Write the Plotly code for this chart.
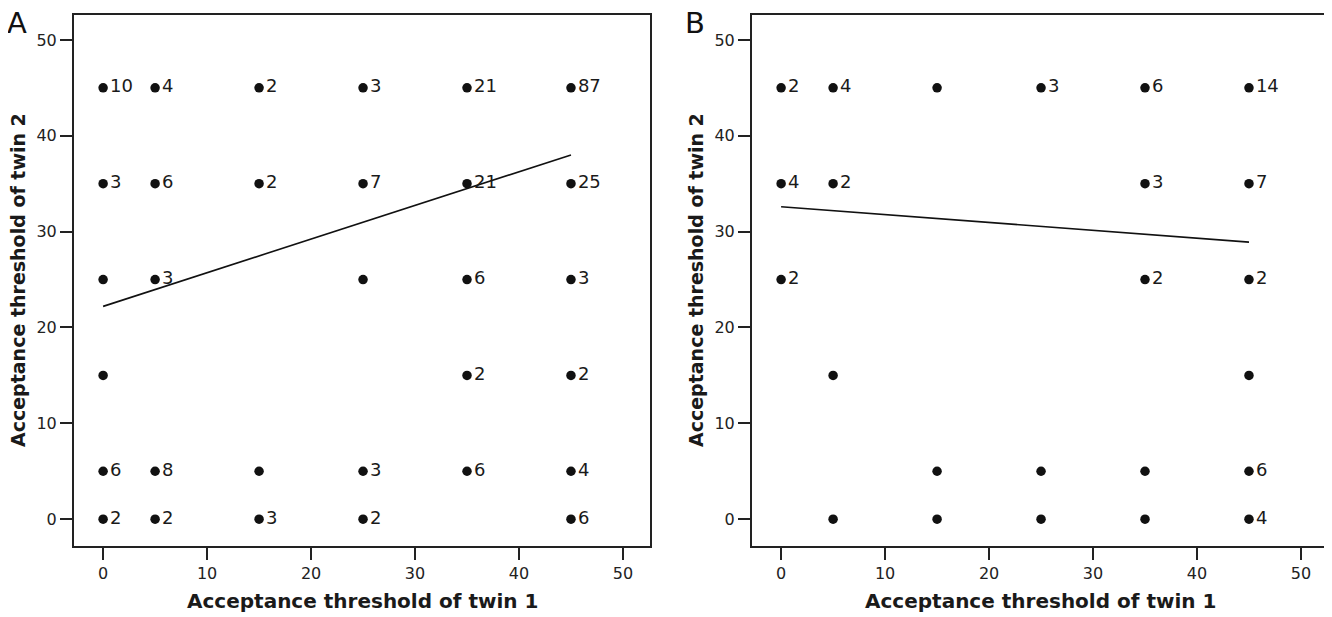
import plotly.graph_objects as go

# ---------------- data ----------------
# Panel A: acceptance thresholds of twin 1 (x) and twin 2 (y) with pair counts
a_x = [0, 5, 15, 25, 35, 45,
       0, 5, 15, 25, 35, 45,
       0, 5, 25, 35, 45,
       0, 35, 45,
       0, 5, 15, 25, 35, 45,
       0, 5, 15, 25, 45]
a_y = [45, 45, 45, 45, 45, 45,
       35, 35, 35, 35, 35, 35,
       25, 25, 25, 25, 25,
       15, 15, 15,
       5, 5, 5, 5, 5, 5,
       0, 0, 0, 0, 0]
a_n = [10, 4, 2, 3, 21, 87,
       3, 6, 2, 7, 21, 25,
       1, 3, 1, 6, 3,
       1, 2, 2,
       6, 8, 1, 3, 6, 4,
       2, 2, 3, 2, 6]
a_fit_x = [0, 45]
a_fit_y = [22.2, 38.0]

# Panel B
b_x = [0, 5, 15, 25, 35, 45,
       0, 5, 35, 45,
       0, 35, 45,
       5, 45,
       15, 25, 35, 45,
       5, 15, 25, 35, 45]
b_y = [45, 45, 45, 45, 45, 45,
       35, 35, 35, 35,
       25, 25, 25,
       15, 15,
       5, 5, 5, 5,
       0, 0, 0, 0, 0]
b_n = [2, 4, 1, 3, 6, 14,
       4, 2, 3, 7,
       2, 2, 2,
       1, 1,
       1, 1, 1, 6,
       1, 1, 1, 1, 4]
b_fit_x = [0, 45]
b_fit_y = [32.6, 28.9]

tick_vals = [0, 10, 20, 30, 40, 50]
x_title = "Acceptance threshold of twin 1"
y_title = "Acceptance threshold of twin 2"
panel_labels = ["A", "B"]

# ---------------- figure ----------------
FONT = "DejaVu Sans, Verdana, sans-serif"
OFF = 8  # default page body margin shifts the figure by 8px

W, H = 1332, 617
# reference-pixel geometry of the plot boxes
boxA = (74, 650)
boxB = (752, 1328)
box_top, box_bot = 13, 546

ml = boxA[0] - OFF
mt = box_top - OFF
mr = W - (boxB[1] - OFF)
mb = H - (box_bot - OFF)
pw = W - ml - mr
ph = H - mt - mb


def px_x(p):
    return (p - OFF - ml) / pw


def px_y(p):
    return (H - mb - (p - OFF)) / ph


fig = go.Figure()


def add_panel(xs, ys, ns, fx, fy, xa, ya):
    fig.add_trace(go.Scatter(
        x=fx, y=fy, mode="lines", xaxis=xa, yaxis=ya,
        line=dict(color="#111111", width=1.6), showlegend=False, hoverinfo="skip"))
    fig.add_trace(go.Scatter(
        x=xs, y=ys, mode="markers+text", xaxis=xa, yaxis=ya,
        text=[str(n) if n > 1 else "" for n in ns],
        textposition="middle right",
        textfont=dict(family=FONT, size=18, color="#1a1a1a"),
        marker=dict(color="#111111", size=9.5, line=dict(width=0)),
        showlegend=False, hoverinfo="skip", cliponaxis=False))


add_panel(a_x, a_y, a_n, a_fit_x, a_fit_y, "x", "y")
add_panel(b_x, b_y, b_n, b_fit_x, b_fit_y, "x2", "y2")

axis_common = dict(
    range=[-2.8, 52.6], tickvals=tick_vals, ticks="outside", ticklen=12, tickwidth=1.5,
    tickcolor="#222222", showline=True, linewidth=2, linecolor="#222222", mirror=True,
    showgrid=False, zeroline=False,
    tickfont=dict(family=FONT, size=16, color="#222222"))

dA = [px_x(boxA[0]), px_x(boxA[1])]
dB = [px_x(boxB[0]), px_x(boxB[1])]

fig.update_layout(
    width=W, height=H, margin=dict(l=ml, r=mr, t=mt, b=mb),
    paper_bgcolor="white", plot_bgcolor="white",
    xaxis=dict(domain=dA, anchor="y", **axis_common),
    yaxis=dict(domain=[0, 1], anchor="x", **axis_common),
    xaxis2=dict(domain=dB, anchor="y2", **axis_common),
    yaxis2=dict(domain=[0, 1], anchor="x2", **axis_common),
)

for i, (box, ax) in enumerate([(boxA, "x"), (boxB, "x2")]):
    # x-axis title
    fig.add_annotation(text=f"<b>{x_title}</b>", xref=f"{ax} domain", yref="paper",
                       x=0.5, y=px_y(601), showarrow=False,
                       xanchor="center", yanchor="middle",
                       font=dict(family=FONT, size=20, color="#1a1a1a"))
    # y-axis title
    fig.add_annotation(text=f"<b>{y_title}</b>", xref="paper", yref="paper",
                       x=px_x(box[0] - 56), y=px_y(279), textangle=-90, showarrow=False,
                       xanchor="center", yanchor="middle",
                       font=dict(family=FONT, size=19, color="#1a1a1a"))
    # panel letter
    fig.add_annotation(text=panel_labels[i], xref="paper", yref="paper",
                       x=px_x(box[0] - 57), y=px_y(21), showarrow=False,
                       xanchor="center", yanchor="middle",
                       font=dict(family=FONT, size=29, color="#111111"))

fig.write_html("out.html")
